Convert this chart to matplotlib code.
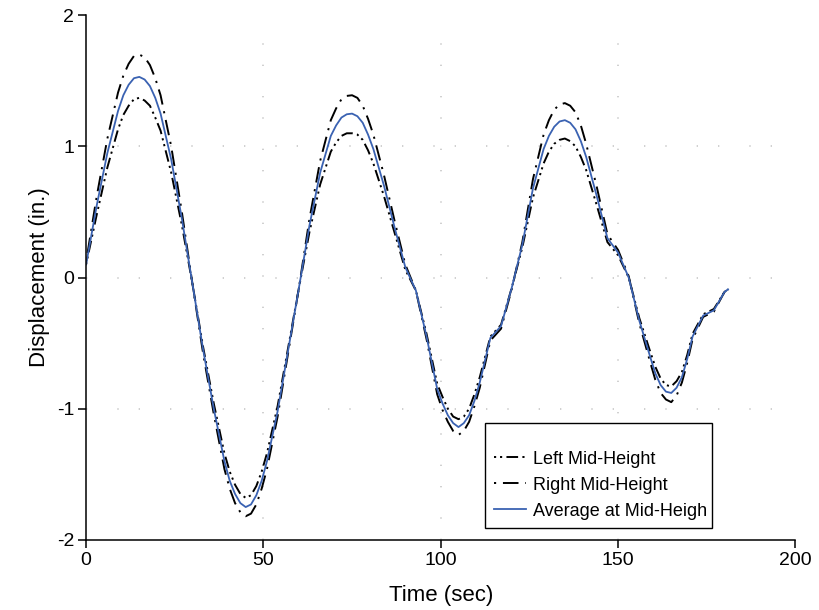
import matplotlib
matplotlib.use('Agg')
import matplotlib.pyplot as plt

plt.rcParams['font.family'] = ['Liberation Sans', 'DejaVu Sans']
plt.rcParams['axes.unicode_minus'] = False

# time (sec)
t = [0, 3, 6, 9, 10.5, 12, 13.5, 15, 16.5, 18,
     19.5, 21, 24, 27, 30, 33, 36, 39, 40.5, 42,
     43.5, 45, 46.5, 48, 49.5, 51, 54, 57, 60, 63,
     66, 69, 70.5, 72, 73.5, 75, 76.5, 78, 79.5, 81,
     84, 87, 90, 93, 96, 99, 100.5, 102, 103.5, 105,
     106.5, 108, 109.5, 111, 114, 117, 120, 123, 126, 129,
     130.5, 132, 133.5, 135, 136.5, 138, 139.5, 141, 144, 147,
     150, 153, 156, 159, 160.5, 162, 163.5, 165, 166.5, 168,
     169.5, 171, 174, 177, 180, 181]

# displacement (in.)
left_mid = [0.10, 0.48, 0.84, 1.13, 1.24, 1.31, 1.36, 1.37, 1.35, 1.31,
            1.22, 1.12, 0.80, 0.40, -0.05, -0.53, -0.96, -1.34, -1.48, -1.58,
            -1.65, -1.68, -1.66, -1.59, -1.48, -1.34, -0.98, -0.53, -0.08, 0.35,
            0.71, 0.96, 1.03, 1.08, 1.10, 1.10, 1.09, 1.05, 0.97, 0.87,
            0.62, 0.34, 0.06, -0.10, -0.43, -0.81, -0.91, -1.00, -1.06, -1.08,
            -1.06, -1.00, -0.89, -0.76, -0.45, -0.36, -0.08, 0.23, 0.61, 0.87,
            0.96, 1.02, 1.05, 1.06, 1.04, 1.00, 0.92, 0.82, 0.55, 0.27,
            0.17, 0.00, -0.31, -0.56, -0.68, -0.77, -0.82, -0.83, -0.79, -0.72,
            -0.59, -0.43, -0.28, -0.24, -0.11, -0.09]

right_mid = [0.12, 0.62, 1.06, 1.41, 1.54, 1.63, 1.69, 1.70, 1.68, 1.62,
             1.52, 1.39, 1.00, 0.50, -0.05, -0.58, -1.04, -1.46, -1.61, -1.72,
             -1.79, -1.82, -1.80, -1.73, -1.61, -1.46, -1.06, -0.57, -0.08, 0.45,
             0.89, 1.20, 1.29, 1.36, 1.385, 1.39, 1.37, 1.31, 1.21, 1.09,
             0.78, 0.43, 0.10, -0.10, -0.47, -0.89, -1.01, -1.10, -1.17, -1.20,
             -1.17, -1.10, -0.98, -0.84, -0.48, -0.39, -0.09, 0.27, 0.75, 1.09,
             1.20, 1.28, 1.32, 1.33, 1.31, 1.26, 1.16, 1.02, 0.69, 0.33,
             0.21, 0.01, -0.35, -0.64, -0.78, -0.88, -0.93, -0.95, -0.90, -0.80,
             -0.65, -0.47, -0.30, -0.26, -0.11, -0.09]

avg_mid = [0.10, 0.55, 0.95, 1.27, 1.39, 1.47, 1.52, 1.53, 1.51, 1.46,
           1.37, 1.25, 0.90, 0.45, -0.05, -0.55, -1.00, -1.40, -1.55, -1.65,
           -1.72, -1.75, -1.73, -1.66, -1.55, -1.40, -1.02, -0.55, -0.08, 0.40,
           0.80, 1.08, 1.16, 1.22, 1.245, 1.25, 1.23, 1.18, 1.09, 0.98,
           0.70, 0.38, 0.08, -0.10, -0.45, -0.85, -0.96, -1.05, -1.11, -1.14,
           -1.11, -1.05, -0.94, -0.80, -0.46, -0.37, -0.08, 0.25, 0.68, 0.98,
           1.08, 1.15, 1.19, 1.20, 1.18, 1.13, 1.04, 0.92, 0.62, 0.30,
           0.19, 0.00, -0.33, -0.60, -0.73, -0.82, -0.87, -0.88, -0.84, -0.76,
           -0.62, -0.45, -0.29, -0.25, -0.11, -0.09]

fig = plt.figure(figsize=(8.2, 6.1), dpi=100)
ax = fig.add_axes([0.105, 0.115, 0.865, 0.86])

ax.plot(t, left_mid, color='black', lw=1.4,
        linestyle=(8.2, (6, 2.2, 1.1, 2, 1.1, 2.2)), label='Left Mid-Height')
ax.plot(t, right_mid, color='black', lw=1.4,
        linestyle=(11.5, (8, 3.5, 1.1, 3.5)), label='Right Mid-Height')
ax.plot(t, avg_mid, color='#3a62b2', lw=1.3, label='Average at Mid-Heigh')

ax.set_xlim(0, 200)
ax.set_ylim(-2, 2)
ax.set_xticks([0, 50, 100, 150, 200])
ax.set_yticks([-2, -1, 0, 1, 2])

# sparse dotted grid
for x in [50, 100, 150]:
    ax.axvline(x, color='#c8c8c8', lw=1.2, dashes=(0.8, 12, 0.8, 18), zorder=0)
for y in [-1, 0, 1]:
    ax.axhline(y, color='#c8c8c8', lw=1.2, dashes=(0.8, 18, 0.8, 12), zorder=0)

ax.spines['top'].set_visible(False)
ax.spines['right'].set_visible(False)
for s in ['left', 'bottom']:
    ax.spines[s].set_linewidth(1.1)
ax.tick_params(direction='out', length=6, width=1.1, labelsize=14, pad=2.5)

ax.set_xlabel('Time (sec)', fontsize=16, labelpad=12)
ax.set_ylabel('Displacement (in.)', fontsize=16, labelpad=5)

leg = ax.legend(loc='lower left', bbox_to_anchor=(0.563, 0.023, 0.32, 0.2),
                mode='expand', fancybox=False, edgecolor='black', framealpha=1,
                fontsize=13, handlelength=1.8, handletextpad=0.4,
                borderpad=0.45, labelspacing=0.5, borderaxespad=0,
                title=' ', title_fontsize=7)
leg.get_frame().set_linewidth(1.0)

fig.savefig('out.png', dpi=100)
